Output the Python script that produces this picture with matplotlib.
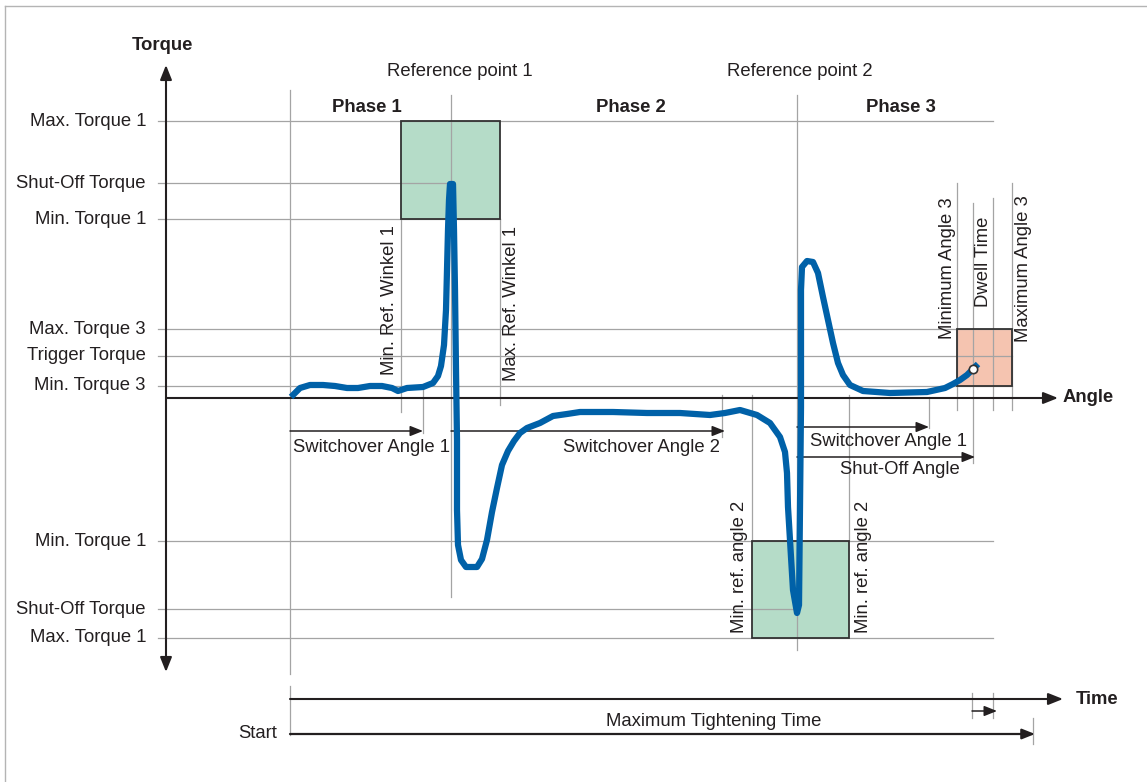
import matplotlib
matplotlib.use('Agg')
import matplotlib.pyplot as plt
from matplotlib.patches import Rectangle

plt.rcParams['font.family'] = ['Liberation Sans', 'DejaVu Sans']
FS = 13.3

# angle marks (angle axis starts at 0)
start = 0
min_ref1 = 111
switch1 = 133
ref1 = 161
max_ref1 = 210
switch2 = 432
min_ref2 = 462
ref2 = 507
max_ref2 = 559
switch3 = 639
min3 = 667
shutoff = 683
dwell_end = 703
max3 = 722
max_time = 743

# torque levels (negative = below the angle axis)
torque_labels = ['Max. Torque 1', 'Shut-Off Torque', 'Min. Torque 1', 'Max. Torque 3',
                 'Trigger Torque', 'Min. Torque 3', 'Min. Torque 1', 'Shut-Off Torque',
                 'Max. Torque 1']
torque_levels = [277, 215, 179, 69, 42, 12, -143, -211, -240]
torque_ends = [dwell_end, ref1, max_ref1, max3, max3, max3, dwell_end, ref2, dwell_end]

# torque curve
curve_angle = [1, 10, 20, 33, 45, 57, 68, 80, 92, 102, 108, 117, 133, 143, 148, 151, 154,
               156, 157, 158, 159, 160, 163, 164, 165, 166, 167, 167, 168, 171, 176, 187,
               192, 197, 202, 207, 212, 218, 224, 230, 237, 250, 263, 277, 290, 323, 357,
               390, 420, 435, 450, 467, 480, 490, 495, 497, 498, 500, 501, 503, 507, 509,
               510, 511, 511, 511, 512, 517, 523, 528, 533, 538, 543, 548, 553, 560, 573,
               600, 637, 655, 663, 670, 677, 688]
curve_torque = [1, 10, 13, 13, 12, 10, 10, 12, 12, 10, 7, 10, 11, 15, 22, 32, 53, 88, 128,
                168, 198, 214, 214, 168, 108, 28, -42, -112, -147, -162, -169, -169, -161,
                -142, -114, -90, -67, -53, -43, -35, -30, -25, -18, -16, -14, -14, -15,
                -15, -17, -15, -12, -17, -25, -39, -54, -75, -109, -142, -159, -192, -215,
                -207, -109, -9, 68, 108, 131, 137, 136, 125, 101, 78, 55, 35, 23, 13, 7, 5,
                6, 10, 14, 18, 23, 34]
marker_point = (shutoff, 29)

dark = '#231f20'
grey = '#a4a4a4'
blue = '#0061a8'
green = '#b5dcc8'
salmon = '#f5c4b0'

fig = plt.figure(figsize=(11.47, 7.82), dpi=100)
ax = fig.add_axes([0, 0, 1, 1])
ax.set_xlim(-290, 857)
ax.set_ylim(-384, 398)
ax.axis('off')

# frame of the picture (top and left only)
ax.plot([-285, 857], [392, 392], color='#b4b4b4', lw=1)
ax.plot([-285, -285], [392, -384], color='#b4b4b4', lw=1)


def arrow(x0, y0, x1, y1, lw=1.1, ms=14, style='-|>'):
    ax.annotate('', xy=(x1, y1), xytext=(x0, y0),
                arrowprops=dict(arrowstyle=style + ',head_length=0.55,head_width=0.22',
                                lw=lw, color=dark, shrinkA=0, shrinkB=0,
                                mutation_scale=ms), zorder=4)


# window boxes
boxes = [(min_ref1, max_ref1, torque_levels[2], torque_levels[0], green),
         (min_ref2, max_ref2, torque_levels[8], torque_levels[6], green),
         (min3, max3, torque_levels[5], torque_levels[3], salmon)]
for x0, x1, y0, y1, c in boxes:
    ax.add_patch(Rectangle((x0, y0), x1 - x0, y1 - y0, facecolor=c, edgecolor='none', zorder=1))
    ax.add_patch(Rectangle((x0, y0), x1 - x0, y1 - y0, facecolor='none', edgecolor='#333333',
                           lw=1.3, zorder=3))

# torque level lines and labels
for lab, lev, end in zip(torque_labels, torque_levels, torque_ends):
    ax.plot([-132, end], [lev, lev], color=grey, lw=0.9, zorder=2)
    ax.text(-144, lev, lab, ha='right', va='center', fontsize=FS, color=dark)

# vertical marker lines
vlines = [(start, 308, -276), (start, -288, -337), (ref1, 303, -199), (ref2, 303, -252),
          (min_ref1, 179, -14), (switch1, 10, -35), (max_ref1, 179, -7), (switch2, 3, -39),
          (min_ref2, 3, -143), (max_ref2, 3, -143), (switch3, 1, -30), (min3, 215, -12),
          (shutoff, 195, -65), (dwell_end, 200, -12), (max3, 215, -12),
          (shutoff - 1, -295, -320), (dwell_end, -295, -320), (max_time, -320, -346)]
for x, y0, y1 in vlines:
    ax.plot([x, x], [y0, y1], color=grey, lw=0.9, zorder=2)

# axes
arrow(-124, -274, -124, 333, lw=1.5, ms=16, style='<|-|>')
arrow(-124, 0, 768, 0, lw=1.5, ms=16)
arrow(start, -301, 773, -301, lw=1.5, ms=16)
ax.text(-128, 352, 'Torque', ha='center', va='center', fontsize=FS, fontweight='bold', color=dark)
ax.text(773, 0, 'Angle', ha='left', va='center', fontsize=FS, fontweight='bold', color=dark)
ax.text(786, -301, 'Time', ha='left', va='center', fontsize=FS, fontweight='bold', color=dark)

# dimension arrows
arrow(start, -33, switch1, -33)
arrow(ref1, -33, switch2 + 3, -33)
arrow(ref2, -29, switch3, -29)
arrow(ref2, -59, shutoff + 2, -59)
arrow(shutoff - 1, -313, dwell_end + 4, -313)
arrow(start, -336, max_time + 2, -336, lw=1.6)

ax.text(start + 3, -50, 'Switchover Angle 1', ha='left', va='center', fontsize=FS, color=dark)
ax.text(switch2 - 2, -50, 'Switchover Angle 2', ha='right', va='center', fontsize=FS, color=dark)
ax.text(ref2 + 13, -43, 'Switchover Angle 1', ha='left', va='center', fontsize=FS, color=dark)
ax.text(ref2 + 43, -71, 'Shut-Off Angle', ha='left', va='center', fontsize=FS, color=dark)
ax.text(-13, -336, 'Start', ha='right', va='center', fontsize=FS, color=dark)
ax.text(424, -324, 'Maximum Tightening Time', ha='center', va='center', fontsize=FS, color=dark)

# headers
ax.text(ref1 + 9, 327, 'Reference point 1', ha='center', va='center', fontsize=FS, color=dark)
ax.text(ref2 + 3, 327, 'Reference point 2', ha='center', va='center', fontsize=FS, color=dark)
ax.text(77, 290, 'Phase 1', ha='center', va='center', fontsize=FS, fontweight='bold', color=dark)
ax.text(341, 290, 'Phase 2', ha='center', va='center', fontsize=FS, fontweight='bold', color=dark)
ax.text(611, 290, 'Phase 3', ha='center', va='center', fontsize=FS, fontweight='bold', color=dark)

# rotated window labels
rot = [(min_ref1 - 12, 23, 'Min. Ref. Winkel 1'), (max_ref1 + 12, 17, 'Max. Ref. Winkel 1'),
       (min_ref2 - 13, -235, 'Min. ref. angle 2'), (max_ref2 + 15, -235, 'Min. ref. angle 2'),
       (min3 - 10, 59, 'Minimum Angle 3'), (shutoff + 10, 91, 'Dwell Time'),
       (max3 + 11, 56, 'Maximum Angle 3')]
for x, y, lab in rot:
    ax.text(x, y, lab, rotation=90, ha='center', va='bottom', fontsize=FS, color=dark)

# torque curve
ax.plot(curve_angle, curve_torque, color=blue, lw=4.5, solid_joinstyle='round',
        solid_capstyle='butt', zorder=5)
ax.plot(*marker_point, 'o', ms=6, mfc='white', mec='#333333', mew=1.2, zorder=6)

fig.savefig('out.png', dpi=100)
